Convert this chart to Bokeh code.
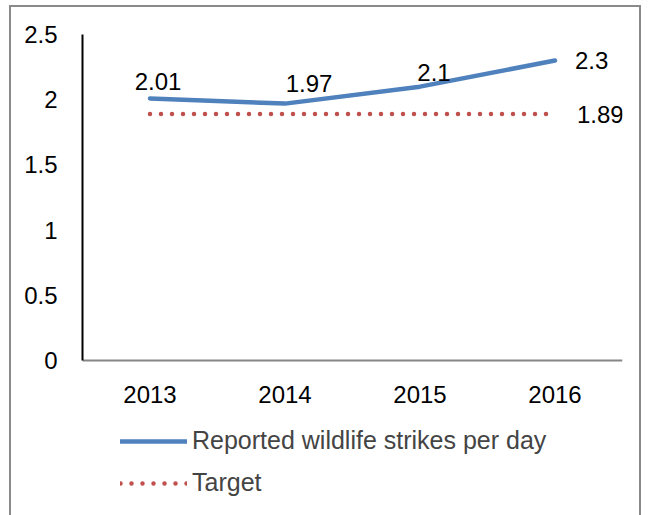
from bokeh.plotting import figure
from bokeh.models import (ColumnDataSource, Range1d, FixedTicker, Legend, LegendItem,
                          CustomJSTickFormatter)
from bokeh.embed import file_html
from bokeh.resources import INLINE
from bokeh.core.properties import value

# ---- data ----
years = ["2013", "2014", "2015", "2016"]
strikes = [2.01, 1.97, 2.1, 2.3]
target = [1.89, 1.89, 1.89, 1.89]
y_ticks = [0, 0.5, 1, 1.5, 2, 2.5]

# ---- styling ----
BLUE = "#4F81BD"
RED = "#C0504D"
FONT = "Liberation Sans"
strike_label_dx = [8, 24, 14, 20]
strike_label_up = [17, 20, 14, 0]
strike_label_align = ["center", "center", "center", "left"]

W, H = 632, 510
TOP, AXIS_Y = 27, 353          # canvas px of y=2.5 and y=0
px_per_unit = (AXIS_Y - TOP) / 2.5
y_lo = -(H - AXIS_Y) / px_per_unit   # frame extends to canvas bottom (legend lives there)

p = figure(x_range=years, y_range=Range1d(y_lo, 2.5), width=W, height=H,
           output_backend="svg", toolbar_location=None,
           min_border_left=71, min_border_right=21, min_border_top=TOP, min_border_bottom=0)
p.margin = (5, 0, 0, 9)
p.styles = {"border-left": "2px solid #8a8a8a", "border-top": "2px solid #8a8a8a",
            "border-right": "2px solid #8a8a8a", "border-bottom": "none"}
p.outline_line_color = None
p.grid.grid_line_color = None
p.background_fill_color = "white"
p.border_fill_color = "white"

p.yaxis.ticker = FixedTicker(ticks=y_ticks)
p.yaxis.formatter = CustomJSTickFormatter(code="return String(tick);")
p.yaxis.bounds = (0, 2.5)
p.xaxis.fixed_location = 0
for ax in (p.xaxis[0], p.yaxis[0]):
    ax.major_tick_line_color = None
    ax.minor_tick_line_color = None
    ax.major_label_text_font = FONT
    ax.major_label_text_font_size = "24px"
    ax.major_label_text_color = "black"
p.yaxis.axis_line_color = "black"
p.yaxis.axis_line_width = 2
p.yaxis.major_label_standoff = 19
p.xaxis.axis_line_color = "#868686"
p.xaxis.axis_line_width = 2
p.xaxis.major_label_standoff = 19

src = ColumnDataSource(dict(x=years, y=strikes, t=target,
                            lbl=[str(v) for v in strikes],
                            dx=strike_label_dx, dy=[-d for d in strike_label_up],
                            al=strike_label_align))

r_line = p.line("x", "y", source=src, line_color=BLUE, line_width=4.5, line_cap="round",
                line_join="round")
r_tgt = p.line("x", "t", source=src, line_color=RED, line_width=4.5, line_cap="round",
               line_dash="0 11")

p.text(x="x", y="y", text="lbl", source=src, x_offset="dx", y_offset="dy",
       text_align="al", text_baseline="middle", text_font=value(FONT),
       text_font_size="24px", text_color="black")
tsrc = ColumnDataSource(dict(x=[years[-1]], y=[target[-1]], lbl=[str(target[-1])]))
p.text(x="x", y="y", text="lbl", source=tsrc, x_offset=22, y_offset=0,
       text_align="left", text_baseline="middle", text_font=value(FONT),
       text_font_size="24px", text_color="black")

legend = Legend(items=[LegendItem(label="Reported wildlife strikes per day", renderers=[r_line]),
                       LegendItem(label="Target", renderers=[r_tgt])],
                location=(38, 20), orientation="vertical",
                glyph_width=67, glyph_height=20, label_height=20, label_standoff=5,
                spacing=13, padding=0, margin=0,
                label_text_font=FONT, label_text_font_size="25px",
                border_line_color=None, background_fill_alpha=0)
p.add_layout(legend, "center")

open("out.html", "w").write(file_html(p, INLINE))
